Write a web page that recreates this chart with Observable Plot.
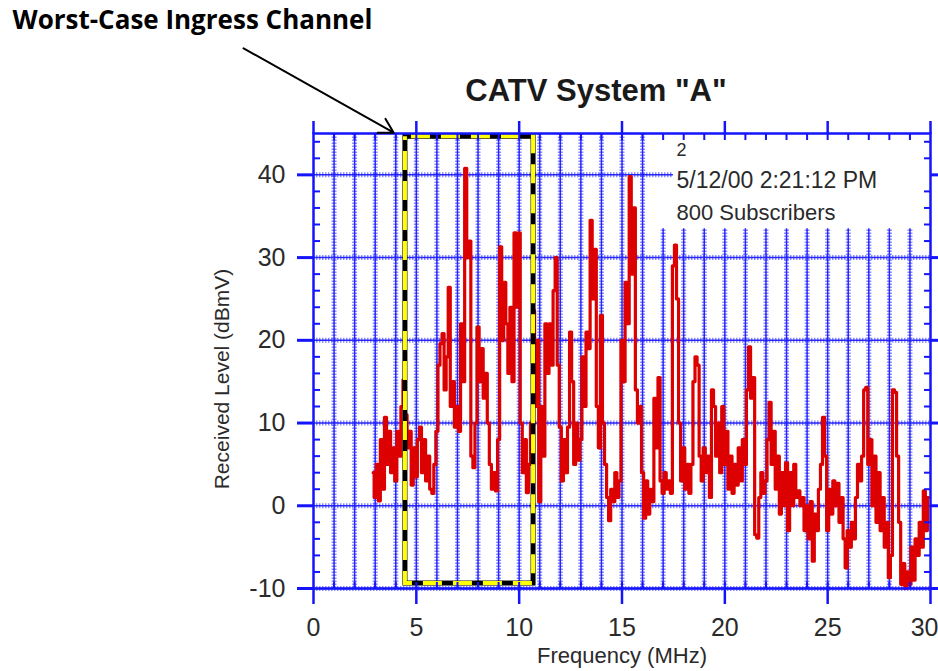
<!DOCTYPE html>
<html><head><meta charset="utf-8">
<script src="https://cdn.jsdelivr.net/npm/d3@7"></script>
<script src="https://cdn.jsdelivr.net/npm/@observablehq/plot@0.6"></script>
<style>body{margin:0;background:#fff;} #chart svg{display:block;}</style>
</head><body><div id="chart"></div>
<script>
// Spectrum sampled every 0.1 MHz from 2.9 MHz
const freqStart = 2.9;
const freqStep = 0.1;
const level = [
  4,
  1, 5, 0.6, 8, 2, 10.7, 5, 9, 4, 7,
  3, 9, 6, 12, 15.2, 11, 7, 9, 2.5, 7,
  3.5, 8, 9.5, 4, 8, 3, 6, 2, 1.5, 5,
  9, 17, 19.6, 20.8, 14, 18, 26.4, 12, 15, 9.5,
  12, 9, 22, 15, 40.8, 30, 32, 6, 4.6, 10,
  21.6, 15, 19, 13, 16, 10, 5, 2, 4, 1.8,
  8, 31.3, 20, 27, 22, 16, 24, 15, 33, 24,
  33, 10, 4, 8, 1.6, 5, 10, 23.6, 12, 20,
  0.5, 12, 6, 22, 16, 22, 17, 26, 30, 17,
  9.5, 3, 8, 4, 9.5, 21, 15, 5, 10, 5.5,
  8, 18, 12, 21, 19, 34.5, 25, 31, 12, 7,
  23, 10, 5, 1, -1.8, 2, 0.5, 4, 1, 3,
  20, 15, 27, 22, 39.8, 28, 36, 14, 10, 12,
  4, -1.5, 3, -1, 2, 0.5, 13, 7, 15.5, 3,
  1.5, 4, 2, 3, 1.5, 29, 31.5, 25, 10, 3,
  7, 2, 5, 1.5, 5, 15, 18, 17, 6, 3,
  7, 4, 6, 1, 14, 12, 6, 10, 4, 12,
  5, 9, 2, 6, 1.5, 5, 2.5, 7, 3, 8,
  5, 14, 19.2, 13, 15.5, -3.5, -3.9, 1, 4, 1.5,
  3, 8, 12.5, 5, 9, 2, 6, -1, 4, 0,
  5.2, -3, 4, 0, 5, 1, 1.8, 0, 1, -3,
  0, -4, 0.5, -6.7, -1, -3, 2, 5, 10.7, 6,
  -3, 2, -1, 3, 0, 2.7, -2, 1, -4, -7.5,
  -3, -5, -2, -4, 1, 5, 3, 6, 14, 14.3,
  5, 8, 0, 6, -2, 4, -3, 1, -5, -2,
  -8.7, -6, 14, 13.7, 6, -2, -9.5, -7, -10, -8,
  -9.5, -5, -9, -4, -6, -2, -5, 1.8, -3, 1
];
const xMajor = [0, 5, 10, 15, 20, 25, 30];
const xLabels = ["0", "5", "10", "15", "20", "25", "30"];
const yMajor = [-10, 0, 10, 20, 30, 40];
const yLabels = ["-10", "0", "10", "20", "30", "40"];
const xGrid = [1,2,3,4,5,6,7,8,9,10,11,12,13,14,15,16,17,18,19,20,21,22,23,24,25,26,27,28,29];
const yMinor = [-8,-6,-4,-2,2,4,6,8,12,14,16,18,22,24,26,28,32,34,36,38,42,44];
const channel = [{x1: 4.47, x2: 10.7, y1: -9.4, y2: 44.6}];
const annotationArrow = [{x1: -3.4, y1: 55.3, x2: 3.9, y2: 45.1}];
const annotationText = "Worst-Case Ingress Channel";
const titleText = 'CATV System "A"';
const xTitle = "Frequency (MHz)";
const yTitle = "Received Level (dBmV)";
const legendLines = ["2", "5/12/00 2:21:12 PM", "800 Subscribers"];

const series = level.map((v, i) => ({f: +(freqStart + i * freqStep).toFixed(1), v}));
const xTickTable = xMajor.map((d, i) => ({x: d, label: xLabels[i]}));
const xTicksInner = xTickTable.slice(0, -1);
const xTickLast = xTickTable.slice(-1);

const blue = "#1414ff";
const gridBlue = "#4040ff";
const textCol = "#2a2a2a";
const legendTop = 33.5;   // vertical grid stops below the legend block
const legendLeft = 17.5;  // 40 dB grid stops at the legend block

const chart = Plot.plot({
  width: 938,
  height: 671,
  marginLeft: 313,
  marginRight: 8,
  marginTop: 133,
  marginBottom: 83,
  x: {domain: [0, 30]},
  y: {domain: [-10, 45]},
  style: {fontFamily: "'Liberation Sans', Arial, sans-serif", background: "#fff", overflow: "visible"},
  marks: [
    // horizontal grid (dotted halo + solid core)
    Plot.ruleY(yMajor, {y: d => d, x1: 0, x2: d => d === 40 ? legendLeft : 30, stroke: gridBlue, strokeWidth: 5, strokeDasharray: "1.5,1.5", strokeOpacity: 0.6}),
    Plot.ruleY(yMajor, {y: d => d, x1: 0, x2: d => d === 40 ? legendLeft : 30, stroke: blue, strokeWidth: 1.5, strokeOpacity: 0.9}),
    // vertical grid
    Plot.ruleX(xGrid, {x: d => d, y1: -10, y2: d => d >= 16.9 ? legendTop : 45, stroke: gridBlue, strokeWidth: 5, strokeDasharray: "1.5,1.5", strokeOpacity: 0.6}),
    Plot.ruleX(xGrid, {x: d => d, y1: -10, y2: d => d >= 16.9 ? legendTop : 45, stroke: blue, strokeWidth: 1.5, strokeOpacity: 0.9}),
    // spectrum trace
    Plot.line(series, {x: "f", y: "v", stroke: "#dd0000", strokeWidth: 3.2, curve: "step"}),
    // worst-case channel box
    Plot.rect(channel, {x1: "x1", x2: "x2", y1: "y1", y2: "y2", fill: "none", stroke: "#000", strokeWidth: 5}),
    Plot.rect(channel, {x1: "x1", x2: "x2", y1: "y1", y2: "y2", fill: "none", stroke: "#ffff00", strokeWidth: 4, strokeDasharray: "19,11", strokeDashoffset: -6}),
    // frame and axes
    Plot.frame({stroke: blue, strokeWidth: 2.5}),
    Plot.axisY(yMajor, {anchor: "left", tickSize: 16, tickPadding: 12, stroke: blue, strokeWidth: 3, fill: textCol, fontSize: 25, tickFormat: d => yLabels[yMajor.indexOf(d)], label: null}),
    Plot.axisY(yMajor, {anchor: "right", tickSize: 16, stroke: blue, strokeWidth: 3, fill: "none", label: null}),
    Plot.axisY(yMinor, {anchor: "left", tickSize: -7, stroke: blue, strokeWidth: 2, fill: "none", label: null}),
    Plot.axisY(yMinor, {anchor: "right", tickSize: -7, stroke: blue, strokeWidth: 2, fill: "none", label: null}),
    Plot.axisX(xMajor, {anchor: "bottom", tickSize: 16, stroke: blue, strokeWidth: 2.5, fill: "none", label: null}),
    Plot.axisX(xMajor, {anchor: "top", tickSize: 13, stroke: blue, strokeWidth: 2.5, fill: "none", label: null}),
    Plot.axisX(xGrid, {anchor: "bottom", tickSize: -6, stroke: blue, strokeWidth: 2, fill: "none", label: null}),
    Plot.axisX(xGrid, {anchor: "top", tickSize: -6, stroke: blue, strokeWidth: 2, fill: "none", label: null}),
    // x tick labels (last one kept inside the canvas)
    Plot.text(xTicksInner, {x: "x", text: "label", frameAnchor: "bottom", dy: 30, lineAnchor: "top", fontSize: 25, fill: textCol}),
    Plot.text(xTickLast, {x: "x", text: "label", frameAnchor: "bottom", dy: 30, dx: 8, textAnchor: "end", lineAnchor: "top", fontSize: 25, fill: textCol}),
    // axis titles
    Plot.text([yTitle], {text: d => d, frameAnchor: "left", dx: -91, dy: 18, rotate: -90, textAnchor: "middle", fontSize: 21, fill: textCol}),
    Plot.text([xTitle], {text: d => d, frameAnchor: "bottom", dy: 74, textAnchor: "middle", fontSize: 22, fill: textCol}),
    Plot.text([titleText], {text: d => d, frameAnchor: "top", dx: -26, dy: -33, lineAnchor: "bottom", fontSize: 31, fontWeight: "bold", fill: "#1a1a1a"}),
    // legend block
    Plot.text([legendLines[0]], {text: d => d, frameAnchor: "top-left", dx: 363, dy: 17, textAnchor: "start", lineAnchor: "middle", fontSize: 18, fill: textCol}),
    Plot.text([legendLines[1]], {text: d => d, frameAnchor: "top-left", dx: 363, dy: 47, textAnchor: "start", lineAnchor: "middle", fontSize: 23, fill: textCol}),
    Plot.text([legendLines[2]], {text: d => d, frameAnchor: "top-left", dx: 363, dy: 79, textAnchor: "start", lineAnchor: "middle", fontSize: 22, fill: textCol}),
    // annotation
    Plot.arrow(annotationArrow, {x1: "x1", y1: "y1", x2: "x2", y2: "y2", stroke: "#000", strokeWidth: 2, headLength: 12, clip: false}),
    Plot.text([annotationText], {text: d => d, frameAnchor: "top-left", dx: -301, dy: -105, textAnchor: "start", lineAnchor: "bottom", fontSize: 26, fontWeight: "bold", fill: "#000", fontFamily: "'Open Sans', sans-serif"})
  ]
});
document.getElementById("chart").appendChild(chart);
</script>
</body></html>
